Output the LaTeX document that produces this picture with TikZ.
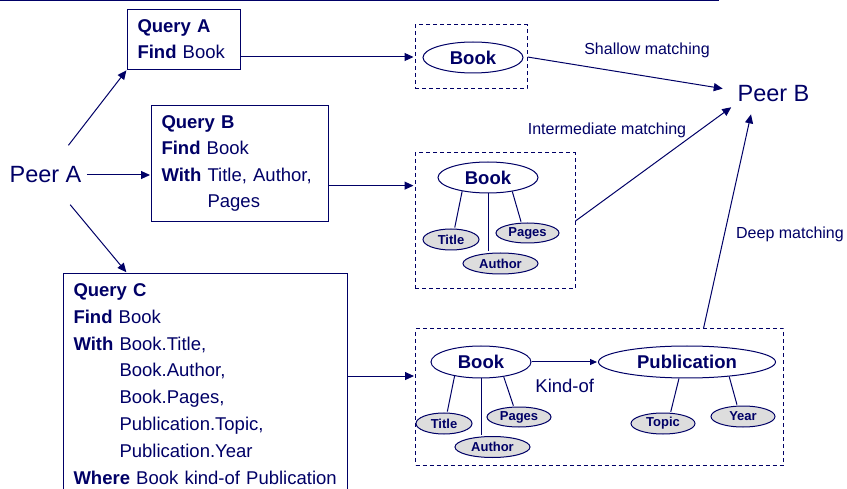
\documentclass[tikz,border=0pt]{standalone}
\usepackage{fontspec}
\setmainfont{Liberation Sans}
\usetikzlibrary{positioning,shapes.geometric,arrows.meta}
\definecolor{navy}{RGB}{0,0,102}
\definecolor{attrfill}{RGB}{221,221,221}

\begin{document}
\begin{tikzpicture}[x=1pt, y=-1pt, shorten >= 1pt, line width=1pt, color=navy,
    >={Triangle[length=9pt, width=8pt]},
    query/.style={draw, anchor=north west, align=left, inner xsep=10pt, inner ysep=10pt,
      font=\fontsize{18.5}{26.5}\selectfont},
    peer/.style={font=\fontsize{23.5}{28}\selectfont},
    dashbox/.style={draw, dash pattern=on 4pt off 3pt, inner sep=0pt},
    concept/.style={ellipse, draw, fill=white, inner sep=0pt, minimum width=100pt,
      minimum height=31pt, font=\bfseries\fontsize{18.5}{22}\selectfont},
    attrib/.style={ellipse, draw, fill=attrfill, inner sep=0pt, minimum height=21pt,
      font=\bfseries\fontsize{13}{15}\selectfont},
    match/.style={inner sep=0pt, font=\fontsize{16}{19}\selectfont}]

  \useasboundingbox (0,0) rectangle (847,489);
  \clip (0,0) rectangle (847,489);
  \draw (0,0.75) -- (720,0.75);

  % Define nodes
  \node[peer, inner xsep=5pt, inner ysep=21pt] (pa) at (45.5,175) {Peer A};
  \node[peer, ellipse, inner sep=0pt, minimum height=42pt] (pb) at (773.5,94) {Peer B};

  \node[query, text width=93pt] (qa) at (127,9) {\textbf{Query A}\\\textbf{Find} Book};
  \node[query, text width=157pt] (qb) at (151,105) {\textbf{Query B}\\\textbf{Find} Book\\
    \textbf{With} Title, Author,\\\hphantom{\textbf{With} }Pages};
  \node[query, text width=264pt, font=\fontsize{18.5}{26.85}\selectfont] (qc) at (63,273) {%
    \textbf{Query C}\\
    \textbf{Find} Book\\
    \textbf{With} Book.Title,\\
    \hphantom{\textbf{With} }Book.Author,\\
    \hphantom{\textbf{With} }Book.Pages,\\
    \hphantom{\textbf{With} }Publication.Topic,\\
    \hphantom{\textbf{With} }Publication.Year\\
    \mbox{\textbf{Where} Book kind-of Publication}};

  \node[dashbox, minimum width=112pt, minimum height=64pt] (ba) at (471,57) {};
  \node[concept] (bookA) at (473,57.5) {Book};

  \node[dashbox, minimum width=160pt, minimum height=136pt] (bb) at (495,221) {};
  \node[concept] (bookB) at (488,177.5) {Book};
  \node[attrib, minimum width=56pt, below=35pt of bookB, xshift=-37pt] (titleB) {Title};
  \node[attrib, minimum width=63pt, minimum height=20pt, below=29pt of bookB, xshift=39.5pt] (pagesB) {Pages};
  \node[attrib, minimum width=75pt, below=59pt of bookB, xshift=12.5pt] (authorB) {Author};

  \node[dashbox, minimum width=368pt, minimum height=136pt] (bc) at (599.5,397) {};
  \node[concept, minimum height=32pt] (bookC) at (481,362) {Book};
  \node[concept, minimum width=177pt, minimum height=32pt] (pub) at (687,362) {Publication};
  \node[attrib, minimum width=56pt, below=34pt of bookC, xshift=-37pt] (titleC) {Title};
  \node[attrib, minimum width=64pt, minimum height=20pt, below=28pt of bookC, xshift=38pt] (pagesC) {Pages};
  \node[attrib, minimum width=75pt, below=57.5pt of bookC, xshift=11.5pt] (authorC) {Author};
  \node[attrib, minimum width=64pt, below=34pt of pub, xshift=-24pt] (topic) {Topic};
  \node[attrib, minimum width=64pt, below=27pt of pub, xshift=56pt] (year) {Year};

  \node[match] (shallow) at (647,50) {Shallow matching};
  \node[match] (inter) at (607,130) {Intermediate matching};
  \node[match] (deep) at (790,234) {Deep matching};

  % Connect the nodes
  \draw[->] (pa) -- (qa.south west);
  \draw[->] (pa.east) -- (pa.east -| qb.west);
  \draw[->] (pa) -- (qa.south west |- qc.north);

  \draw[->] (qa.east |- ba.west) -- (ba.west);
  \coordinate (qbout) at ([yshift=-22pt]qb.east);
  \draw[->] (qbout) -- (qbout -| bb.west);
  \coordinate (qcout) at ([yshift=8pt]qc.east);
  \draw[->] (qcout) -- (qcout -| bc.west);

  \draw (bookB.208) -- (titleB.72);
  \draw (bookB.south) -- (bookB.south |- authorB.north);
  \draw (bookB.330) -- (pagesB.121);
  \draw (bookC.208) -- (titleC.74);
  \draw (bookC.south) -- (bookC.south |- authorC.north);
  \draw (bookC.327) -- (pagesC.117);
  \draw (pub.244) -- (topic.55);
  \draw (pub.341) -- (year.118);
  \draw[-{Triangle[length=7pt, width=6pt]}] (bookC) -- (pub)
    node[midway, below=17pt, inner sep=0pt, font=\fontsize{18.5}{22}\selectfont] (kindof) {Kind-of};

  \draw[->] (ba.east) -- (pb.174);
  \draw[->] (bb.east) -- (pb.197);
  \draw[->] ([xshift=104pt]bc.north) -- (pb.221);

\end{tikzpicture}
\end{document}
